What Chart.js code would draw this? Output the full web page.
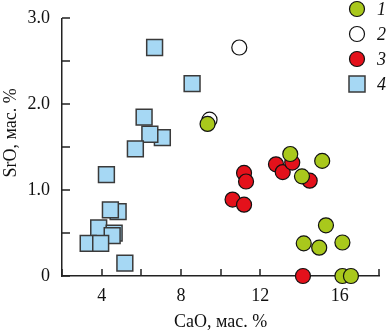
<!DOCTYPE html>
<html>
<head>
<meta charset="utf-8">
<script src="https://cdn.jsdelivr.net/npm/chart.js@4"></script>
<style>
  html, body { margin: 0; padding: 0; background: #fff; }
</style>
</head>
<body>
<canvas id="chart" width="392" height="335"></canvas>
<script>
// CaO vs SrO, wt. %, four sample groups
const group1CaO = [9.34, 13.51, 14.10, 15.12, 15.31, 14.19, 14.97, 16.14, 16.14, 16.57];
const group1SrO = [1.77, 1.42, 1.16, 1.34, 0.59, 0.38, 0.33, 0.39, 0.00, 0.00];

const group2CaO = [10.94, 9.44];
const group2SrO = [2.66, 1.82];

const group3CaO = [11.18, 11.28, 10.60, 11.18, 12.79, 13.13, 13.61, 14.49, 14.15];
const group3SrO = [1.20, 1.10, 0.89, 0.83, 1.30, 1.21, 1.32, 1.11, 0.00];

const group4CaO = [6.67, 8.56, 6.14, 7.06, 6.43, 5.70, 4.24, 4.83, 4.44, 3.85, 4.63, 4.53, 3.32, 3.95, 5.17];
const group4SrO = [2.66, 2.24, 1.85, 1.61, 1.65, 1.48, 1.18, 0.75, 0.77, 0.56, 0.50, 0.47, 0.38, 0.38, 0.15];

const FONT = '"Liberation Serif", "Times New Roman", serif';
const FONT_SIZE = 18;

function toPoints(xs, ys) {
    return xs.map((x, i) => ({ x: x, y: ys[i] }));
}

function circleSet(label, xs, ys, fill) {
    return {
        label: label,
        data: toPoints(xs, ys),
        pointStyle: 'circle',
        pointRadius: 7.5,
        pointHoverRadius: 7.5,
        backgroundColor: fill,
        borderColor: '#111',
        borderWidth: 1.2,
        clip: false
    };
}

const datasets = [
    circleSet('1', group1CaO, group1SrO, '#a9c81c'),
    circleSet('3', group3CaO, group3SrO, '#e4111b'),
    circleSet('2', group2CaO, group2SrO, '#ffffff'),
    {
        label: '4',
        data: toPoints(group4CaO, group4SrO),
        pointStyle: 'rect',
        pointRadius: 11.2,
        pointHoverRadius: 11.2,
        backgroundColor: '#a6d8f4',
        borderColor: '#3a3a3a',
        borderWidth: 1.5,
        clip: false
    }
];

// inward ticks, rotated y title and the legend in the upper right corner
const decor = {
    id: 'decor',
    beforeDatasetsDraw(chart) {
        const { ctx, chartArea } = chart;
        const x = chart.scales.x, y = chart.scales.y;
        ctx.save();
        ctx.strokeStyle = '#222';
        ctx.lineWidth = 1.5;
        ctx.beginPath();
        x.ticks.forEach(t => {
            const px = Math.round(x.getPixelForValue(t.value));
            ctx.moveTo(px, chartArea.bottom);
            ctx.lineTo(px, chartArea.bottom - 7);
        });
        y.ticks.forEach(t => {
            const py = Math.round(y.getPixelForValue(t.value));
            ctx.moveTo(chartArea.left, py);
            ctx.lineTo(chartArea.left + 8, py);
        });
        ctx.stroke();
        ctx.restore();
    },
    afterDraw(chart) {
        const ctx = chart.ctx;
        ctx.save();

        ctx.fillStyle = '#111';
        ctx.font = FONT_SIZE + 'px ' + FONT;
        ctx.textAlign = 'center';
        ctx.textBaseline = 'middle';
        ctx.translate(11, 133);
        ctx.rotate(-Math.PI / 2);
        ctx.fillText('SrO, мас. %', 0, 0);
        ctx.setTransform(1, 0, 0, 1, 0, 0);

        const items = chart.data.datasets.slice().sort((a, b) => a.label.localeCompare(b.label));
        items.forEach((ds, i) => {
            const cx = 357, cy = 9 + i * 25;
            ctx.fillStyle = ds.backgroundColor;
            ctx.strokeStyle = ds.borderColor;
            ctx.lineWidth = ds.borderWidth;
            ctx.beginPath();
            if (ds.pointStyle === 'rect') {
                ctx.rect(cx - 8, cy - 8, 16, 16);
            } else {
                ctx.arc(cx, cy, 7.5, 0, Math.PI * 2);
            }
            ctx.fill();
            ctx.stroke();

            ctx.fillStyle = '#111';
            ctx.font = 'italic ' + FONT_SIZE + 'px ' + FONT;
            ctx.textAlign = 'left';
            ctx.textBaseline = 'middle';
            ctx.fillText(ds.label, 377, cy + 1);
        });
        ctx.restore();
    }
};

new Chart(document.getElementById('chart'), {
    type: 'scatter',
    data: { datasets: datasets },
    options: {
        responsive: false,
        animation: false,
        layout: { padding: { top: 7, right: 3, left: 0, bottom: 0 } },
        plugins: {
            legend: { display: false },
            tooltip: { enabled: false }
        },
        scales: {
            x: {
                type: 'linear',
                position: 'bottom',
                min: 2,
                max: 18,
                grid: { display: false, drawTicks: false },
                border: { display: true, color: '#222', width: 1.5 },
                ticks: {
                    stepSize: 2,
                    autoSkip: false,
                    maxRotation: 0,
                    padding: 9,
                    color: '#111',
                    font: { family: FONT, size: FONT_SIZE },
                    callback: v => (v % 4 === 0 ? String(v) : '')
                },
                title: {
                    display: true,
                    text: 'CaO, мас. %',
                    color: '#111',
                    font: { family: FONT, size: FONT_SIZE },
                    padding: { top: 0, bottom: 2 }
                },
                afterFit: s => { s.height = 59; }
            },
            y: {
                type: 'linear',
                min: 0,
                max: 3,
                grid: { display: false, drawTicks: false },
                border: { display: true, color: '#222', width: 1.5 },
                ticks: {
                    stepSize: 0.5,
                    autoSkip: false,
                    padding: 12,
                    color: '#111',
                    font: { family: FONT, size: FONT_SIZE, lineHeight: 0.7 },
                    callback: v => (v === 0 ? '0' : (v % 1 === 0 ? v.toFixed(1) : ''))
                },
                afterFit: s => { s.width = 62; }
            }
        }
    },
    plugins: [decor]
});
</script>
</body>
</html>
